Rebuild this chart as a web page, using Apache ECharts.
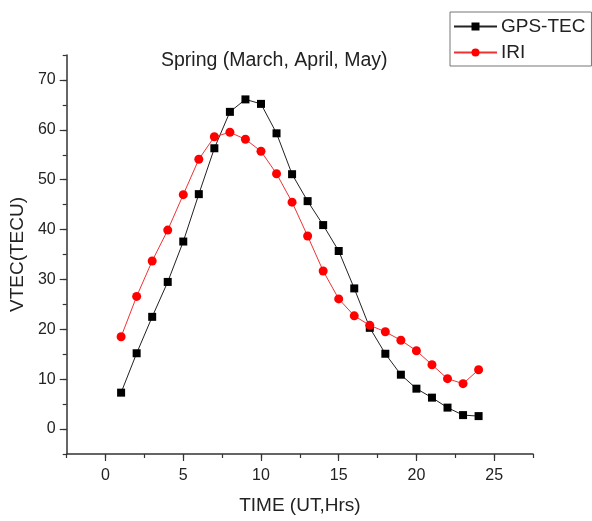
<!DOCTYPE html>
<html>
<head>
<meta charset="utf-8">
<script src="https://cdn.jsdelivr.net/npm/echarts@6/dist/echarts.min.js"></script>
<style>
html,body{margin:0;padding:0;background:#fff;}
#chart{width:592px;height:521px;}
</style>
</head>
<body>
<div id="chart"></div>
<script>
const hours = [1,2,3,4,5,6,7,8,9,10,11,12,13,14,15,16,17,18,19,20,21,22,23,24];
const gpsTec = [7.3,15.2,22.5,29.5,37.6,47.1,56.3,63.6,66.1,65.2,59.3,51.1,45.7,40.9,35.7,28.2,20.3,15.1,10.9,8.1,6.3,4.3,2.8,2.6];
const iri = [18.5,26.6,33.7,39.9,47.0,54.1,58.6,59.5,58.1,55.7,51.2,45.5,38.7,31.7,26.1,22.7,20.8,19.5,17.8,15.7,12.9,10.1,9.1,11.9];
const xMajorTicks = [0,5,10,15,20,25];
const yMajorTicks = [0,10,20,30,40,50,60,70];
const titleText = 'Spring (March, April, May)';
const xName = 'TIME (UT,Hrs)';
const yName = 'VTEC(TECU)';

const FONT = '"Liberation Sans", Arial, sans-serif';
const TXT = '#222';
const AX = '#333';

const chart = echarts.init(document.getElementById('chart'));
chart.setOption({
  animation: false,
  backgroundColor: '#fff',
  textStyle: {fontFamily: FONT},
  title: {
    text: titleText,
    left: 161, top: 51,
    padding: 0,
    textStyle: {fontFamily: FONT, fontSize: 19.5, fontWeight: 'normal', color: TXT}
  },
  legend: {
    orient: 'vertical',
    left: 450, top: 12,
    width: 140,
    padding: [5, 6, 4, 3],
    itemGap: 7,
    itemWidth: 43,
    itemHeight: 10,
    borderColor: '#777',
    borderWidth: 1,
    textStyle: {fontFamily: FONT, fontSize: 19, color: TXT, padding: [0,0,0,-1]},
    data: ['GPS-TEC', 'IRI']
  },
  grid: {left: 62, right: 59, top: 55, bottom: 67, containLabel: false},
  xAxis: [{
    type: 'value',
    min: -2.5, max: 27.5, interval: 2.5,
    name: xName, nameLocation: 'middle', nameGap: 42,
    nameTextStyle: {fontFamily: FONT, fontSize: 19, color: TXT},
    axisLine: {onZero: false, lineStyle: {color: AX, width: 1.5}},
    axisTick: {show: true, inside: false, length: 4, lineStyle: {color: AX, width: 1.2}},
    axisLabel: {
      fontFamily: FONT, fontSize: 16, color: TXT, margin: 14,
      formatter: v => (Math.abs(v % 5) < 1e-9 && v >= 0 && v <= 25) ? String(v) : ''
    },
    splitLine: {show: false}
  }, {
    type: 'value',
    position: 'bottom',
    min: -2.5, max: 27.5,
    axisLine: {show: false, onZero: false},
    axisTick: {show: true, length: 7, customValues: xMajorTicks, lineStyle: {color: AX, width: 1.2}},
    axisLabel: {show: false},
    splitLine: {show: false}
  }],
  yAxis: [{
    type: 'value',
    min: -5, max: 75, interval: 5,
    name: yName, nameLocation: 'middle', nameGap: 32,
    nameTextStyle: {fontFamily: FONT, fontSize: 19, color: TXT},
    axisLine: {show: true, onZero: false, lineStyle: {color: AX, width: 1.5}},
    axisTick: {show: true, inside: false, length: 4, lineStyle: {color: AX, width: 1.2}},
    axisLabel: {
      fontFamily: FONT, fontSize: 16, color: TXT, margin: 11,
      formatter: v => (Math.abs(v % 10) < 1e-9 && v >= 0 && v <= 70) ? String(v) : ''
    },
    splitLine: {show: false}
  }, {
    type: 'value',
    position: 'left',
    min: -5, max: 75,
    axisLine: {show: false, onZero: false},
    axisTick: {show: true, length: 7, customValues: yMajorTicks, lineStyle: {color: AX, width: 1.2}},
    axisLabel: {show: false},
    splitLine: {show: false}
  }],
  series: [{
    name: 'GPS-TEC',
    type: 'line',
    data: hours.map((h, i) => [h, gpsTec[i]]),
    symbol: 'rect', symbolSize: 8,
    itemStyle: {color: '#000'},
    lineStyle: {color: '#222', width: 1}
  }, {
    name: 'IRI',
    type: 'line',
    data: hours.map((h, i) => [h, iri[i]]),
    symbol: 'circle', symbolSize: 9,
    itemStyle: {color: '#f00'},
    lineStyle: {color: '#e33', width: 1}
  }]
});
</script>
</body>
</html>
